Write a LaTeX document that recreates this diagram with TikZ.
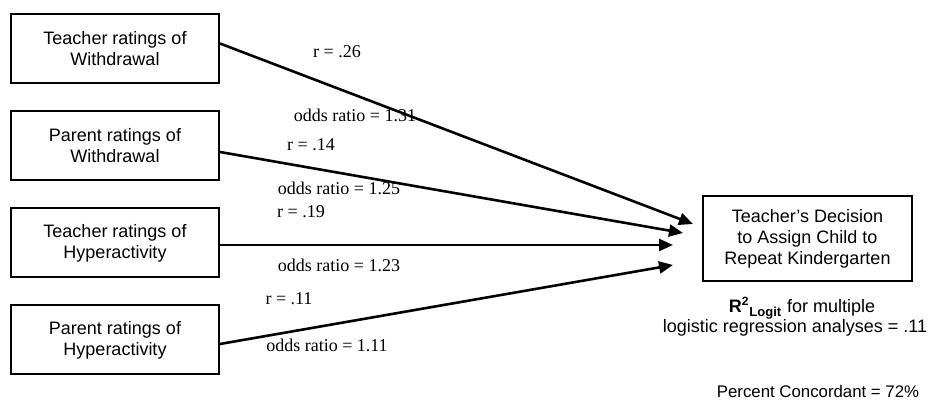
\documentclass[tikz,border=0pt]{standalone}
\usepackage{fontspec}
\setmainfont{Liberation Serif}
\setsansfont{Liberation Sans}
\usetikzlibrary{arrows.meta}
\tikzset{
  factor/.style={draw, line width=1pt, minimum width=104pt, minimum height=34.5pt,
    inner sep=0pt, align=center, font=\sffamily\fontsize{9}{10.5}\selectfont},
  outcome/.style={factor, minimum width=104.5pt, minimum height=42.5pt},
  link/.style={line width=1.3pt, -{Triangle[length=7pt,width=6pt]}},
  stat/.style={inner sep=0pt, font=\fontsize{9}{10.5}\selectfont},
  fit stat/.style={inner sep=0pt, anchor=base, font=\sffamily\fontsize{9}{10.5}\selectfont},
}
\begin{document}
\begin{tikzpicture}[x=0.5pt, y=-0.5pt]
  \useasboundingbox (0,0) rectangle (928,405);
  % predictor boxes
  \node[factor] (tw) at (115,48.5) {Teacher ratings of\\Withdrawal};
  \node[factor] (pw) at (115,146) {Parent ratings of\\Withdrawal};
  \node[factor] (th) at (115,243) {Teacher ratings of\\Hyperactivity};
  \node[factor] (ph) at (115,340) {Parent ratings of\\Hyperactivity};
  % outcome box
  \node[outcome] (dec) at (807.5,238.5) {Teacher's Decision\\to Assign Child to\\Repeat Kindergarten};
  % arrow tips
  \coordinate (t1) at (693,224);
  \coordinate (t2) at (683,233);
  \coordinate (t3) at (673,245);
  \coordinate (t4) at (673,265);
  \draw[link] ([yshift=2.5pt]tw.east) -- (t1);
  \draw[link] ([yshift=-3pt]pw.east) -- (t2);
  \draw[link] ([yshift=-1pt]th.east) -- (t3);
  \draw[link] ([yshift=-2pt]ph.east) -- (t4);
  % path statistics
  \node[stat] (r1) at (337,52) {r = .26};
  \node[stat] (o1) at (355,115) {odds ratio = 1.31};
  \node[stat] (r2) at (311,145) {r = .14};
  \node[stat] (o2) at (339,188) {odds ratio = 1.25};
  \node[stat] (r3) at (301,212) {r = .19};
  \node[stat] (o3) at (339,265) {odds ratio = 1.23};
  \node[stat] (r4) at (289,299) {r = .11};
  \node[stat] (o4) at (327,345) {odds ratio = 1.11};
  % model fit
  \node[fit stat] (rsq) at (802,313) {\textbf{R\textsuperscript{2}\textsubscript{\fontsize{6.5}{7}\selectfont Logit}} for multiple};
  \node[fit stat] (rsqb) at (795,333) {logistic regression analyses = .11};
  \node[fit stat, font=\sffamily\fontsize{8.4}{10}\selectfont] (conc) at (818,398) {Percent Concordant = 72\%};
\end{tikzpicture}
\end{document}
